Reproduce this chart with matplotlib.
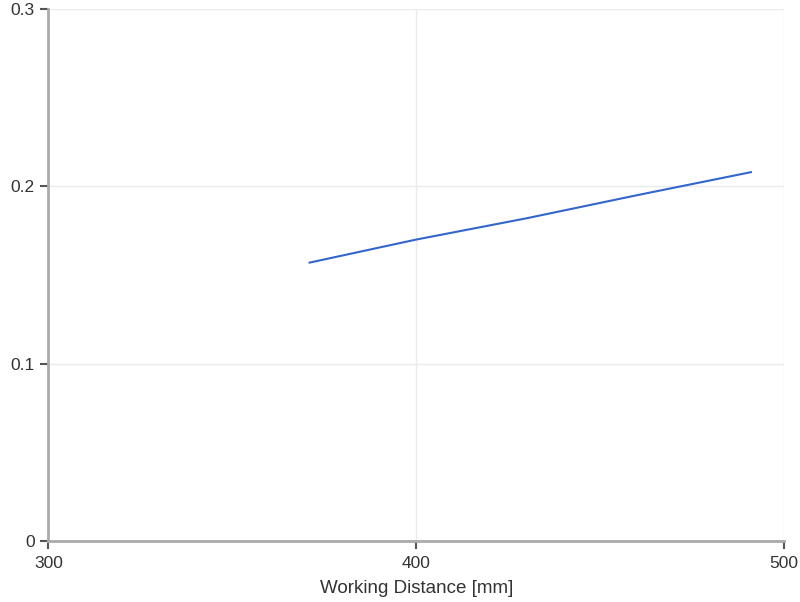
import matplotlib.pyplot as plt

distance = [371, 400, 430, 460, 491]
values = [0.157, 0.170, 0.182, 0.195, 0.208]
xticks = [300, 400, 500]
yticks = [0, 0.1, 0.2, 0.3]
ytick_labels = ["0", "0.1", "0.2", "0.3"]

plt.rcParams['font.family'] = ['Liberation Sans', 'DejaVu Sans']

fig = plt.figure(figsize=(8, 6.02), dpi=100)
ax = fig.add_axes([0.0606, 0.1013, 0.9194, 0.8837])

ax.plot(distance, values, color="#3366cc", linewidth=1.5)

ax.set_xlim(300, 500)
ax.set_ylim(0, 0.3)
ax.set_xticks(xticks)
ax.set_yticks(yticks)
ax.set_yticklabels(ytick_labels)

ax.grid(True, color="#ebebeb", linewidth=1)
ax.set_axisbelow(True)

for side in ["top", "right"]:
    ax.spines[side].set_visible(False)
for side in ["left", "bottom"]:
    ax.spines[side].set_color("#aaaaaa")
    ax.spines[side].set_linewidth(2)

ax.tick_params(axis="both", direction="out", length=6, width=1.5,
               color="#555555", labelcolor="#333333", labelsize=12.5)
ax.tick_params(axis="x", pad=5)
ax.tick_params(axis="y", pad=4)

ax.set_xlabel("Working Distance [mm]", fontsize=13.5, color="#333333", labelpad=6)

fig.savefig("out.png", dpi=100)
